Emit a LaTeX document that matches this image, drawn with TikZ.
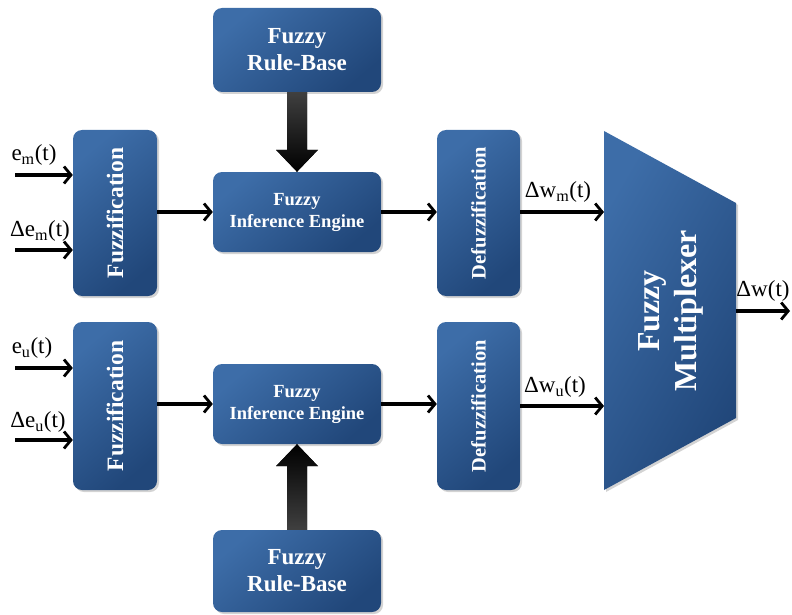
\documentclass[tikz,border=0pt]{standalone}
\usepackage{fontspec}
\setmainfont{Liberation Serif}
\usetikzlibrary{arrows.meta,calc,shadows}
\definecolor{boxlight}{HTML}{3D6DA8}
\definecolor{boxdark}{HTML}{21477A}

\tikzset{
  blk/.style={rounded corners=9pt, draw=none, inner sep=0pt,
    top color=boxlight, bottom color=boxdark, shading angle=40,
    drop shadow={opacity=0.35, shadow xshift=2pt, shadow yshift=-2pt}},
  lbl/.style={text=white, font=\bfseries, align=center, inner sep=0pt},
  sig/.style={line width=3.2pt, -{Straight Barb[length=7pt,width=17pt,line width=2.8pt]}},
  siglbl/.style={inner sep=0pt, font=\fontsize{23}{26}\selectfont},
}

\begin{document}
\begin{tikzpicture}[x=1pt, y=-1pt]
\useasboundingbox (0,0) rectangle (792,615);

% rule bases
\node[blk, minimum width=168pt, minimum height=84pt] (rb1) at (297,50) {};
\node[lbl, font=\bfseries\fontsize{23}{27}\selectfont] at (rb1) {Fuzzy\\Rule-Base};
\node[blk, minimum width=168pt, minimum height=82pt] (rb2) at (297,571) {};
\node[lbl, font=\bfseries\fontsize{23}{27}\selectfont] at (rb2) {Fuzzy\\Rule-Base};

% fuzzification blocks
\node[blk, minimum width=84pt, minimum height=166pt] (fz1) at (115,213) {};
\node[lbl, rotate=90, font=\bfseries\fontsize{23.5}{26}\selectfont] at (fz1) {Fuzzification};
\node[blk, minimum width=84pt, minimum height=168pt] (fz2) at (115,406) {};
\node[lbl, rotate=90, font=\bfseries\fontsize{23.5}{26}\selectfont] at (fz2) {Fuzzification};

% inference engines
\node[blk, minimum width=168pt, minimum height=80pt] (ie1) at (297,212) {};
\node[lbl, font=\bfseries\fontsize{18.5}{22}\selectfont] at (ie1) {Fuzzy\\Inference Engine};
\node[blk, minimum width=168pt, minimum height=80pt] (ie2) at (297,404) {};
\node[lbl, font=\bfseries\fontsize{18.5}{22}\selectfont] at (ie2) {Fuzzy\\Inference Engine};

% defuzzification blocks
\node[blk, minimum width=83pt, minimum height=166pt] (dz1) at (478.5,213) {};
\node[lbl, rotate=90, font=\bfseries\fontsize{20.5}{24}\selectfont] at (dz1) {Defuzzification};
\node[blk, minimum width=83pt, minimum height=168pt] (dz2) at (478.5,406) {};
\node[lbl, rotate=90, font=\bfseries\fontsize{20.5}{24}\selectfont] at (dz2) {Defuzzification};

% multiplexer
\coordinate (mA) at (604,131);
\coordinate (mB) at (736,203);
\coordinate (mC) at (736,418);
\coordinate (mD) at (604,490);
\path[top color=boxlight, bottom color=boxdark, shading angle=60,
  drop shadow={opacity=0.35, shadow xshift=2pt, shadow yshift=-2pt}]
  (mA) -- (mB) -- (mC) -- (mD) -- cycle;
\node[lbl, rotate=90, font=\bfseries\fontsize{32}{37}\selectfont] (mux) at (671,311) {Fuzzy\\Multiplexer};

% input signals
\coordinate (i1) at (15,175);
\coordinate (i2) at (15,250);
\coordinate (i3) at (15,368);
\coordinate (i4) at (15,440);
\draw[sig] (i1) -- (fz1.west |- i1);
\draw[sig] (i2) -- (fz1.west |- i2);
\draw[sig] (i3) -- (fz2.west |- i3);
\draw[sig] (i4) -- (fz2.west |- i4);
\node[siglbl] (l1) at (34,155) {e\textsubscript{m}(t)};
\node[siglbl] (l2) at (40,231) {Δe\textsubscript{m}(t)};
\node[siglbl] (l3) at (32,348) {e\textsubscript{u}(t)};
\node[siglbl] (l4) at (38,422) {Δe\textsubscript{u}(t)};

% internal signals
\draw[sig] (fz1.east |- ie1) -- (ie1.west);
\draw[sig] (ie1.east) -- (dz1.west |- ie1);
\draw[sig] (fz2.east |- ie2) -- (ie2.west);
\draw[sig] (ie2.east) -- (dz2.west |- ie2);
\coordinate (m1) at (604,212);
\coordinate (m2) at (604,406);
\draw[sig] (dz1.east |- m1) -- (m1);
\draw[sig] (dz2.east |- m2) -- (m2);
\node[siglbl] (w1) at (558,192) {Δw\textsubscript{m}(t)};
\node[siglbl] (w2) at (555,387) {Δw\textsubscript{u}(t)};

% output
\coordinate (o0) at (736,311);
\coordinate (o1) at (790,311);
\draw[sig] (o0) -- (o1);
\node[siglbl] (wo) at (763,291) {Δw(t)};

% rule-base feeds
\fill[top color=black!75, bottom color=black]
  ($(rb1.south)+(-10,0)$) -- ($(rb1.south)+(10,0)$) -- ($(ie1.north)+(10,-22)$)
  -- ($(ie1.north)+(21,-22)$) -- (ie1.north) -- ($(ie1.north)+(-21,-22)$)
  -- ($(ie1.north)+(-10,-22)$) -- cycle;
\fill[bottom color=black!75, top color=black]
  ($(rb2.north)+(-10,0)$) -- ($(rb2.north)+(10,0)$) -- ($(ie2.south)+(10,22)$)
  -- ($(ie2.south)+(21,22)$) -- (ie2.south) -- ($(ie2.south)+(-21,22)$)
  -- ($(ie2.south)+(-10,22)$) -- cycle;
\end{tikzpicture}
\end{document}
